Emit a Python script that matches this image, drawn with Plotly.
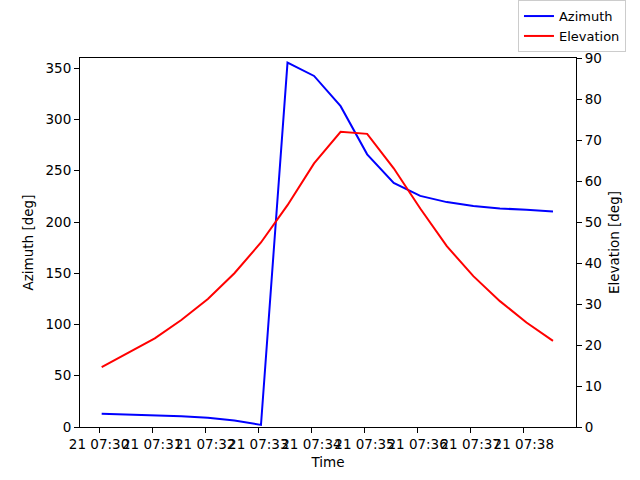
import plotly.graph_objects as go
import pandas as pd

start_time = "2024-01-21 07:30:03"
step_seconds = 30
azimuth = [13.0, 12.4, 11.7, 10.6, 9.0, 6.4, 2.0, 355.5, 342.5, 313.0, 266.0, 238.2,
           225.5, 219.4, 215.5, 213.2, 211.9, 210.3]
elevation = [14.6, 18.1, 21.6, 26.1, 31.2, 37.5, 45.0, 54.1, 64.3, 72.0, 71.5, 63.1,
             53.3, 44.1, 36.8, 30.7, 25.5, 21.0]

times = pd.date_range(start=start_time, periods=len(azimuth), freq=f"{step_seconds}s")

font = dict(family="DejaVu Sans", size=13.5, color="black")
legend_font = dict(family="DejaVu Sans", size=13, color="black")

fig = go.Figure()
fig.add_trace(go.Scatter(x=times, y=azimuth, mode="lines", name="Azimuth",
                         line=dict(color="blue", width=2), yaxis="y"))
fig.add_trace(go.Scatter(x=times, y=elevation, mode="lines", name="Elevation",
                         line=dict(color="red", width=2), yaxis="y2"))

fig.update_layout(
    width=640, height=480,
    margin=dict(l=80, r=64, t=58, b=53, pad=0, autoexpand=False),
    paper_bgcolor="white", plot_bgcolor="white",
    font=font,
    showlegend=True,
    legend=dict(x=0.883, y=1.016, xanchor="left", yanchor="bottom",
                bgcolor="white", bordercolor="#cccccc", borderwidth=1,
                font=legend_font, itemwidth=30, tracegroupgap=0),
    xaxis=dict(
        title=dict(text="Time", font=font, standoff=6),
        range=["2024-01-21 07:29:38.5", "2024-01-21 07:38:59"],
        tick0="2024-01-21 07:30:00", dtick=60000, tickformat="%d %H:%M",
        tickangle=0, showgrid=False, zeroline=False, automargin=False,
        showline=True, linecolor="black", linewidth=1, mirror=True,
        ticks="outside", ticklen=5, tickcolor="black", tickfont=font,
    ),
    yaxis=dict(
        title=dict(text="Azimuth [deg]", font=font, standoff=8),
        range=[0, 360], dtick=50, showgrid=False, zeroline=False, automargin=False,
        showline=True, linecolor="black", linewidth=1, mirror=True,
        ticks="outside", ticklen=5, tickcolor="black", tickfont=font,
    ),
    yaxis2=dict(
        title=dict(text="Elevation [deg]", font=font, standoff=8),
        range=[0, 90], dtick=10, overlaying="y", side="right",
        showgrid=False, zeroline=False, automargin=False,
        showline=True, linecolor="black", linewidth=1,
        ticks="outside", ticklen=5, tickcolor="black", tickfont=font,
    ),
)

fig.write_html("out.html", config={"displayModeBar": False},
               post_script="document.body.style.margin='0';")
